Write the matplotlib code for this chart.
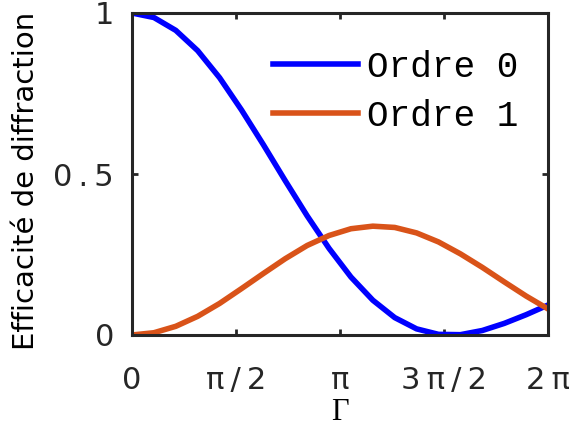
import numpy as np
import matplotlib
matplotlib.use('Agg')
import matplotlib.pyplot as plt
from matplotlib import font_manager

# Gamma grid (20 samples over 0..2pi)
gamma = np.linspace(0, 2 * np.pi, 20)

# diffraction efficiency
ordre0 = [1.000, 0.986, 0.946, 0.883, 0.799, 0.699, 0.591, 0.479, 0.370, 0.269,
          0.180, 0.108, 0.054, 0.019, 0.002, 0.001, 0.014, 0.036, 0.063, 0.093]
ordre1 = [0.000, 0.007, 0.027, 0.058, 0.098, 0.144, 0.191, 0.237, 0.278, 0.309,
          0.330, 0.338, 0.334, 0.317, 0.289, 0.252, 0.210, 0.165, 0.121, 0.081]

xticks = [0, np.pi / 2, np.pi, 3 * np.pi / 2, 2 * np.pi]
ts = '\u2009'
xticklabels = ['0', 'π' + ts + '/' + ts + '2', 'π', '3' + ts + 'π' + ts + '/' + ts + '2', '2' + ts + 'π']
yticks = [0, 0.5, 1]
yticklabels = ['0', '0' + ts + '.' + ts + '5', '1']

axcol = '#262626'

# courier-like font for the legend
names = set(f.name for f in font_manager.fontManager.ttflist)
mono = 'DejaVu Sans Mono'
for cand in ['Liberation Mono', 'Courier New', 'Nimbus Mono PS', 'FreeMono', 'Courier']:
    if cand in names:
        mono = cand
        break

fig = plt.figure(figsize=(5.71, 4.33), dpi=100)
ax = fig.add_axes([132 / 571, 1 - 335 / 433, 416 / 571, 322 / 433])

ax.plot(gamma, ordre0, color='#0000FF', lw=4, label='Ordre 0')
ax.plot(gamma, ordre1, color='#D95319', lw=4, label='Ordre 1')

ax.set_xlim(0, 2 * np.pi)
ax.set_ylim(0, 1)
ax.set_xticks(xticks)
ax.set_xticklabels(xticklabels, fontsize=22, family='DejaVu Sans')
ax.set_yticks(yticks)
ax.set_yticklabels(yticklabels, fontsize=22, family='DejaVu Sans')

for s in ax.spines.values():
    s.set_linewidth(2.2)
    s.set_color(axcol)

ax.tick_params(direction='in', length=4, width=2, color=axcol, labelcolor='#262626',
               top=True, right=True)
ax.tick_params(axis='x', pad=22)
ax.tick_params(axis='y', pad=13)

ax.set_ylabel('Efficacité de diffraction', fontsize=21, family='DejaVu Sans')
ax.yaxis.set_label_coords(-0.221, 0.48)
ax.set_xlabel('Γ', fontsize=22, family='Liberation Serif', va='top')
ax.xaxis.set_label_coords(0.5, -0.196)

leg = ax.legend(loc='upper left', bbox_to_anchor=(0.339, 0.885), frameon=False,
                prop={'family': mono, 'size': 26},
                borderpad=0, borderaxespad=0, handlelength=2.35,
                handletextpad=0.24, labelspacing=0.38)

fig.savefig('out.png', dpi=100)
